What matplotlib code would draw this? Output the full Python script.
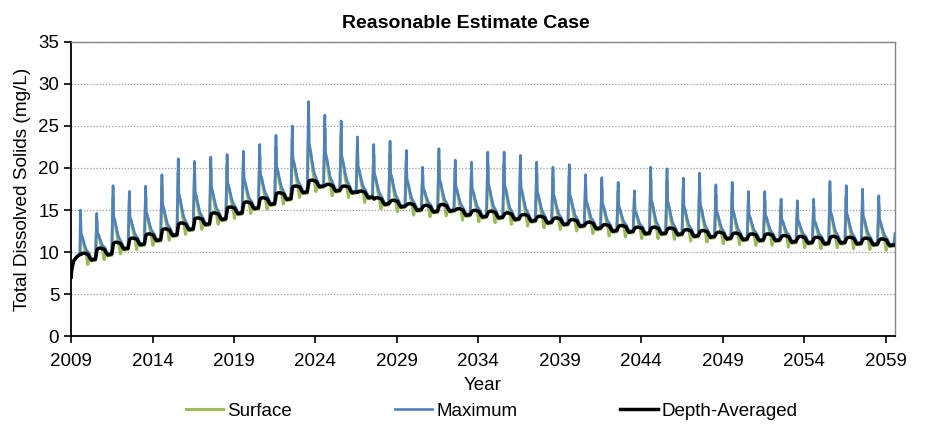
import matplotlib
matplotlib.use("Agg")
import matplotlib.pyplot as plt
import numpy as np

plt.rcParams['font.family'] = ['Liberation Sans', 'DejaVu Sans']

## Donnees
annees = list(range(2009, 2059))   # une pointe par an
# valeur max de chaque pointe annuelle (Maximum)
pic_max = [15.0, 14.6, 17.9, 17.2, 17.85, 19.2, 21.1, 20.8, 21.3, 21.6,
           22.0, 22.8, 23.9, 25.0, 27.9, 26.3, 25.6, 23.7, 22.8, 23.2,
           22.1, 20.1, 22.3, 20.95, 20.7, 21.9, 21.9, 21.5, 20.7, 20.1,
           20.4, 19.2, 18.85, 18.3, 17.3, 20.1, 19.9, 18.8, 19.4, 18.0,
           18.3, 17.2, 17.2, 16.3, 16.1, 16.3, 18.4, 17.9, 17.5, 16.7]
# palier haut de la moyenne sur la profondeur apres chaque pointe
palier_moy = [9.8, 10.4, 11.1, 11.6, 12.1, 12.7, 13.4, 14.0, 14.6, 15.3,
              15.9, 16.4, 17.0, 17.8, 18.5, 18.0, 17.8, 17.2, 16.4, 16.1,
              15.7, 15.5, 15.6, 15.1, 14.9, 14.8, 14.6, 14.4, 14.2, 14.0,
              13.8, 13.5, 13.2, 13.1, 12.9, 12.9, 12.8, 12.6, 12.5, 12.3,
              12.2, 12.1, 12.1, 11.9, 11.8, 11.7, 11.8, 11.7, 11.6, 11.5]

# debut de serie (montee initiale) et fin de serie
debut_t = [2009.0, 2009.05, 2009.15, 2009.3, 2009.45, 2009.55]
debut_v = [7.0, 8.0, 8.9, 9.3, 9.6, 9.7]
fin_t = 2059.57
fin_moy, fin_max, fin_surf = 10.8, 12.2, 11.0

# forme d'un cycle annuel : phase (annee), fraction de la pointe, decalage
forme_max = ([0.58, 0.61, 0.70, 0.80, 0.92, 1.10, 1.25, 1.50],
             [1.0, 0.46, 0.37, 0.24, 0.10, 0.0, 0.0, 0.0],
             [0, 0, 0, 0, 0, 0.05, -0.6, -0.55])
forme_surf = ([0.58, 0.61, 0.70, 0.82, 0.95, 1.03, 1.10, 1.25, 1.50],
              [0.8, 0.46, 0.37, 0.15, 0.0, 0.0, 0.0, 0.0, 0.0],
              [0, 0, 0, 0, -0.3, -1.3, -0.4, -0.85, -0.8])
forme_moy = ([0.60, 0.70, 0.85, 1.05, 1.15, 1.25, 1.50],
             [0, 0, 0, 0, 0, 0, 0],
             [-0.1, 0.05, 0.05, -0.1, -0.5, -0.75, -0.65])


def serie(forme, fin_v):
    t = list(debut_t)
    v = list(debut_v)
    phase, frac, dec = forme
    for an, p, h in zip(annees, pic_max, palier_moy):
        for ph, fr, d in zip(phase, frac, dec):
            t.append(an + ph)
            v.append(h + fr * (p - h) + d)
    t.append(fin_t)
    v.append(fin_v)
    return np.array(t), np.array(v)


t_s, v_s = serie(forme_surf, fin_surf)
t_m, v_m = serie(forme_max, fin_max)
t_d, v_d = serie(forme_moy, fin_moy)

## Affichage
fig = plt.figure(figsize=(9.31, 4.24), dpi=100)
ax = fig.add_axes([0.0763, 0.2075, 0.885, 0.6935])

ax.plot(t_s, v_s, color="#9BBB59", linewidth=2.2, label="Surface", zorder=2)
ax.plot(t_m, v_m, color="#4F81BD", linewidth=1.9, label="Maximum", zorder=3)
ax.plot(t_d, v_d, color="black", linewidth=2.5, label="Depth-Averaged", zorder=4)

ax.set_xlim(2009, 2059.57)
ax.set_ylim(0, 35)
ax.set_xticks(range(2009, 2060, 5))
ax.set_yticks(range(0, 36, 5))
ax.tick_params(axis="both", direction="out", length=5, width=1.2, labelsize=13.5, colors="black")
ax.tick_params(axis="x", pad=7)
ax.yaxis.grid(True, linestyle=(0, (1, 1.5)), color="#9a9a9a", linewidth=0.9)
ax.set_axisbelow(True)

for s in ["left", "bottom"]:
    ax.spines[s].set_linewidth(1.3)
for s in ["top", "right"]:
    ax.spines[s].set_color("#868686")
    ax.spines[s].set_linewidth(1.0)

# titre centre sur la figure
fig.text(0.5, 0.945, "Reasonable Estimate Case", fontsize=14, weight="bold", ha="center", va="center")
ax.set_xlabel("Year", fontsize=13.5, labelpad=5)
ax.set_ylabel("Total Dissolved Solids (mg/L)", fontsize=13.7, labelpad=5)

fig.legend(loc="center", bbox_to_anchor=(0.528, 0.03), ncol=3, frameon=False,
           fontsize=13.5, handlelength=2.0, handletextpad=0.2, columnspacing=5.5)

fig.savefig("out.png", dpi=100)
